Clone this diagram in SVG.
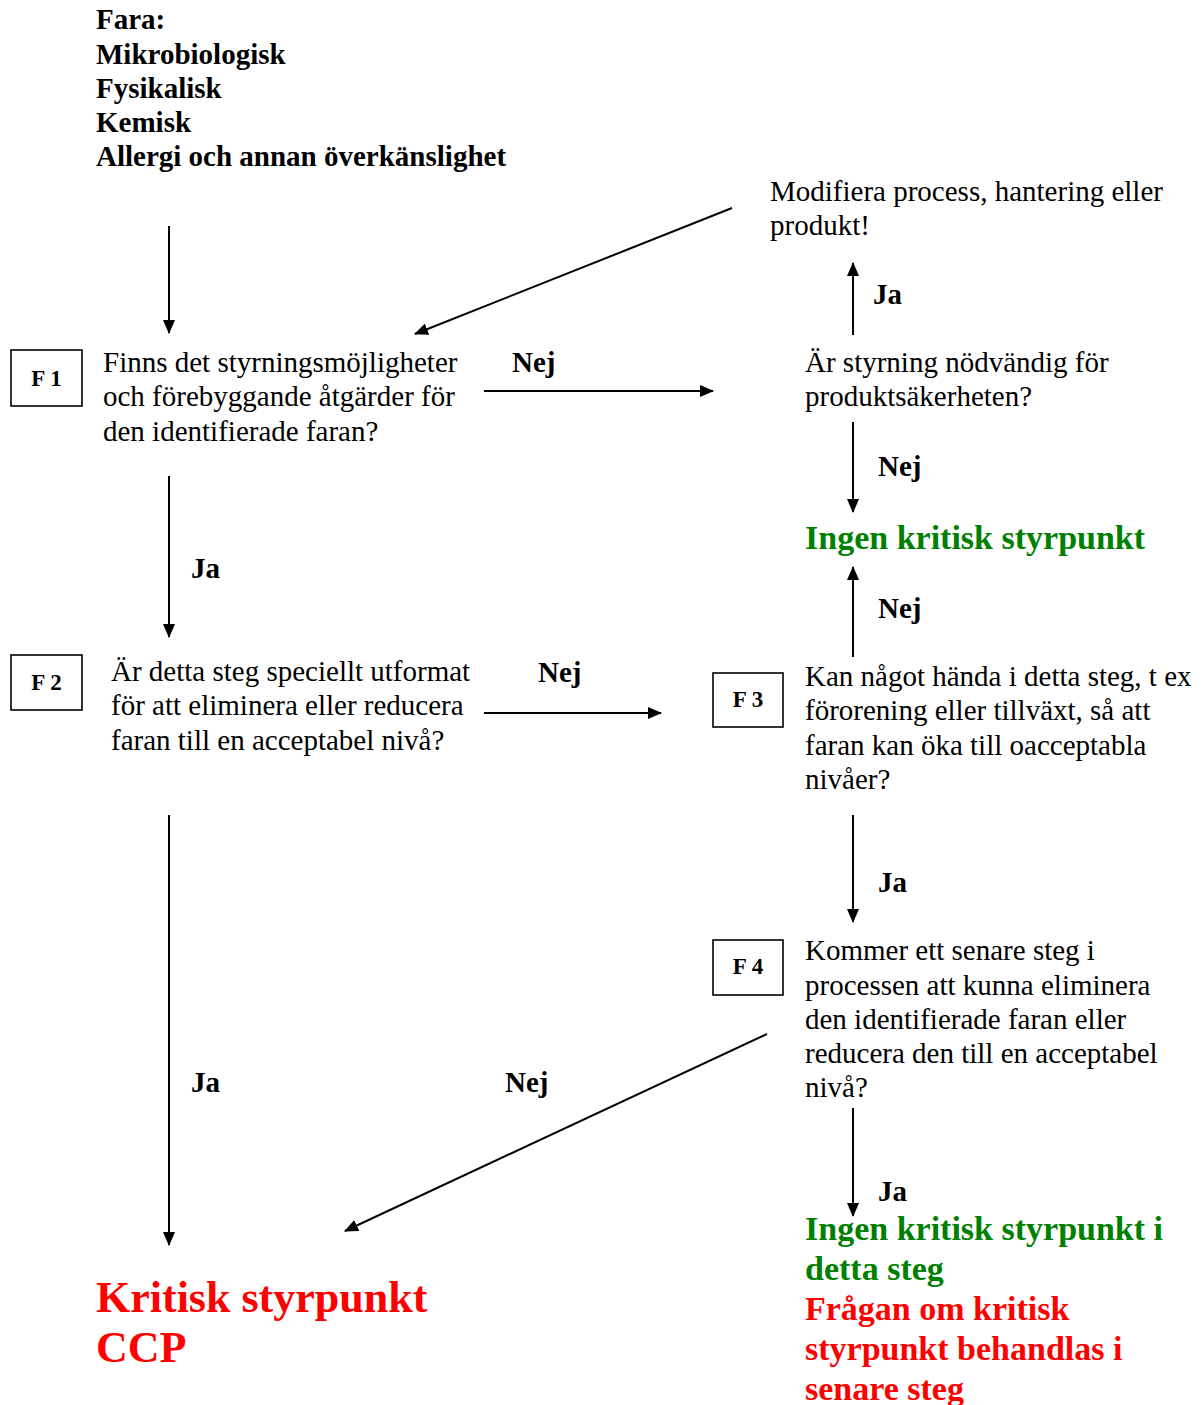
<svg xmlns="http://www.w3.org/2000/svg" width="1202" height="1405" viewBox="0 0 1202 1405">
<style>
text{font-family:"Liberation Serif","Times New Roman",serif;fill:#000}
.r{font-size:29px}
.b{font-size:29px;font-weight:bold}
.f{font-size:23px;font-weight:bold}
.g{font-size:34px;font-weight:bold;fill:#008000}
.rd{font-size:34px;font-weight:bold;fill:#ff0000}
.big{font-size:44px;font-weight:bold;fill:#ff0000}
.box{fill:#fff;stroke:#000;stroke-width:1.6}
.c line{stroke:#000;stroke-width:2;marker-end:url(#ah)}
</style>
<defs>
<marker id="ah" markerUnits="userSpaceOnUse" markerWidth="14" markerHeight="12" refX="13" refY="6" orient="auto">
<path d="M0,0 L14,6 L0,12 z" fill="#000"/>
</marker>
</defs>
<rect width="1202" height="1405" fill="#fff"/>
<g id="fara">
<text class="b" x="96" y="29">Fara:</text>
<text class="b" x="96" y="64">Mikrobiologisk</text>
<text class="b" x="96" y="98">Fysikalisk</text>
<text class="b" x="96" y="132">Kemisk</text>
<text class="b" x="96" y="166">Allergi och annan överkänslighet</text>
</g>
<g id="modifiera">
<text class="r" x="770" y="201">Modifiera process, hantering eller</text>
<text class="r" x="770" y="235">produkt!</text>
</g>
<g id="F1">
<rect class="box" x="11" y="350" width="71" height="56"/>
<text class="f" x="46.5" y="386" text-anchor="middle">F 1</text>
<text class="r" x="103" y="372">Finns det styrningsmöjligheter</text>
<text class="r" x="103" y="406">och förebyggande åtgärder för</text>
<text class="r" x="103" y="441">den identifierade faran?</text>
</g>
<g id="styrning">
<text class="r" x="805" y="372">Är styrning nödvändig för</text>
<text class="r" x="805" y="406">produktsäkerheten?</text>
</g>
<g id="ingen1">
<text class="g" x="805" y="549">Ingen kritisk styrpunkt</text>
</g>
<g id="F2">
<rect class="box" x="11" y="655" width="71" height="55"/>
<text class="f" x="46.5" y="690" text-anchor="middle">F 2</text>
<text class="r" x="111" y="681">Är detta steg speciellt utformat</text>
<text class="r" x="111" y="715">för att eliminera eller reducera</text>
<text class="r" x="111" y="750">faran till en acceptabel nivå?</text>
</g>
<g id="F3">
<rect class="box" x="713" y="673" width="70" height="54"/>
<text class="f" x="748" y="707" text-anchor="middle">F 3</text>
<text class="r" x="805" y="686">Kan något hända i detta steg, t ex</text>
<text class="r" x="805" y="720">förorening eller tillväxt, så att</text>
<text class="r" x="805" y="755">faran kan öka till oacceptabla</text>
<text class="r" x="805" y="789">nivåer?</text>
</g>
<g id="F4">
<rect class="box" x="713" y="940" width="70" height="55"/>
<text class="f" x="748" y="974" text-anchor="middle">F 4</text>
<text class="r" x="805" y="960">Kommer ett senare steg i</text>
<text class="r" x="805" y="995">processen att kunna eliminera</text>
<text class="r" x="805" y="1029">den identifierade faran eller</text>
<text class="r" x="805" y="1063">reducera den till en acceptabel</text>
<text class="r" x="805" y="1097">nivå?</text>
</g>
<g id="ccp">
<text class="big" x="96" y="1312">Kritisk styrpunkt</text>
<text class="big" x="96" y="1362">CCP</text>
</g>
<g id="ingen2">
<text class="g" x="805" y="1240">Ingen kritisk styrpunkt i</text>
<text class="g" x="805" y="1280">detta steg</text>
<text class="rd" x="805" y="1320">Frågan om kritisk</text>
<text class="rd" x="805" y="1360">styrpunkt behandlas i</text>
<text class="rd" x="805" y="1400">senare steg</text>
</g>
<g id="connectors" class="c">
<line x1="169" y1="226" x2="169" y2="333"/>
<line x1="732" y1="208" x2="415" y2="334"/>
<line x1="484" y1="391" x2="713" y2="391"/>
<line x1="853" y1="335" x2="853" y2="263"/>
<line x1="853" y1="422" x2="853" y2="512"/>
<line x1="169" y1="476" x2="169" y2="637"/>
<line x1="484" y1="713" x2="661" y2="713"/>
<line x1="853" y1="657" x2="853" y2="567"/>
<line x1="853" y1="815" x2="853" y2="922"/>
<line x1="767" y1="1034" x2="345" y2="1231"/>
<line x1="169" y1="815" x2="169" y2="1245"/>
<line x1="853" y1="1108" x2="853" y2="1216"/>
</g>
<g id="labels">
<text class="b" x="512" y="372">Nej</text>
<text class="b" x="873" y="304">Ja</text>
<text class="b" x="878" y="476">Nej</text>
<text class="b" x="191" y="578">Ja</text>
<text class="b" x="538" y="682">Nej</text>
<text class="b" x="878" y="618">Nej</text>
<text class="b" x="878" y="892">Ja</text>
<text class="b" x="191" y="1092">Ja</text>
<text class="b" x="505" y="1092">Nej</text>
<text class="b" x="878" y="1201">Ja</text>
</g>
</svg>
